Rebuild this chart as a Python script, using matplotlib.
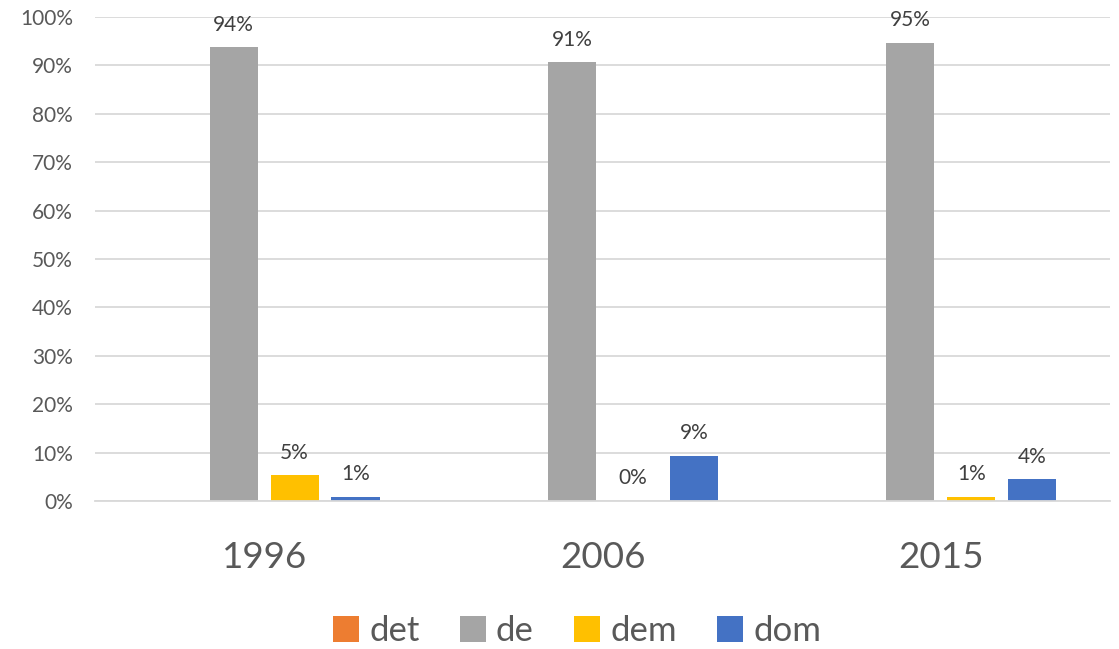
import numpy as np
import matplotlib
matplotlib.use("Agg")
import matplotlib.pyplot as plt
from matplotlib.ticker import PercentFormatter

plt.rcParams['font.family'] = ['Lato', 'DejaVu Sans']

years = ["1996", "2006", "2015"]
series = ["det", "de", "dem", "dom"]
det = [np.nan, np.nan, np.nan]
de = [93.7, 90.6, 94.6]
dem = [5.3, 0.0, 0.8]
dom = [0.8, 9.3, 4.5]
colors = ["#ED7D31", "#A5A5A5", "#FFC000", "#4472C4"]
text_color = "#595959"

fig = plt.figure(figsize=(11.19, 6.49), dpi=100)
ax = fig.add_axes([95/1119, 1-501/649, (1110-95)/1119, (501-17)/649])

x = np.arange(len(years))
step = 0.18
width = 0.142
values = [det, de, dem, dom]
for i, (name, vals, c) in enumerate(zip(series, values, colors)):
    pos = x + (i - 1.5) * step
    bars = ax.bar(pos, vals, width=width, color=c, label=name, zorder=3)
    for xp, v in zip(pos, vals):
        if not np.isnan(v):
            ax.annotate(f"{v:.0f}%", (xp, v), xytext=(0, 12), textcoords="offset points",
                        ha="center", va="baseline", fontsize=15, color="#404040")

ax.set_xlim(-0.5, 2.5)
ax.set_ylim(0, 100)
ax.set_yticks(np.arange(0, 101, 10))
ax.yaxis.set_major_formatter(PercentFormatter(decimals=0))
ax.set_xticks(x)
ax.set_xticklabels(years)
ax.tick_params(axis="x", length=0, pad=29, labelsize=26.5, labelcolor=text_color)
ax.tick_params(axis="y", length=0, pad=16, labelsize=15, labelcolor=text_color)
ax.grid(axis="y", color="#D9D9D9", linewidth=1.3, zorder=0)
for s in ["top", "right", "left"]:
    ax.spines[s].set_visible(False)
ax.spines["bottom"].set_color("#D9D9D9")
ax.spines["bottom"].set_linewidth(1.3)
ax.spines["bottom"].set_zorder(4)

leg = fig.legend(loc="center", bbox_to_anchor=(577/1119, 1-631/649), ncol=4, frameon=False,
                 fontsize=25, handlelength=0.75, handleheight=0.75, handletextpad=0.3,
                 columnspacing=1.15)
for t in leg.get_texts():
    t.set_color(text_color)

fig.savefig("out.png", dpi=100, facecolor="white")
